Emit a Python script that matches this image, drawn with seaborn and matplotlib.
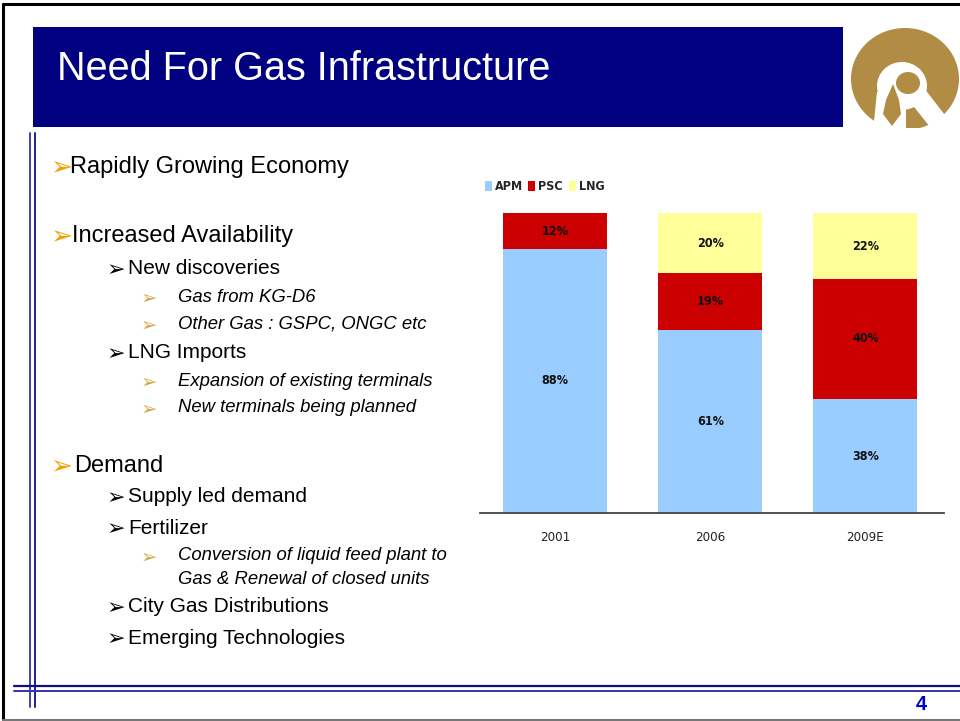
import matplotlib
matplotlib.use('Agg')
import matplotlib.pyplot as plt
import seaborn as sns
from matplotlib.patches import Rectangle, Ellipse, Polygon

# Gas supply mix (%) by source
years = ['2001', '2006', '2009E']
apm = [88, 61, 38]
psc = [12, 19, 40]
lng = [0, 20, 22]
series_names = ['APM', 'PSC', 'LNG']
series_colors = ['#99CCFF', '#CC0000', '#FFFF99']

sns.set_style('white')
plt.rcParams['font.family'] = ['Liberation Sans', 'DejaVu Sans']

fig = plt.figure(figsize=(9.6, 7.21), dpi=100)

# Slide background in pixel coordinates
bg = fig.add_axes([0, 0, 1, 1])
bg.set_xlim(0, 960)
bg.set_ylim(721, 0)
bg.axis('off')

# slide frame
bg.plot([3, 3], [4, 719], color='black', lw=2.2)
bg.plot([3, 960], [4, 4], color='black', lw=2.2)
bg.plot([3, 960], [719.5, 719.5], color='#777777', lw=1.5)

# title bar
bg.add_patch(Rectangle((33, 27), 810, 100, facecolor='#000080', edgecolor='none'))
bg.text(57, 69, 'Need For Gas Infrastructure', color='white', fontsize=28.5,
        va='center', ha='left')

# logo (rough)
gold = '#B08C44'
bg.add_patch(Ellipse((905, 79), 108, 102, facecolor=gold, edgecolor='none'))
bg.add_patch(Ellipse((902, 86), 50, 48, facecolor='white', edgecolor='none'))
bg.add_patch(Polygon([(873, 131), (877, 92), (906, 92), (906, 131)],
                     facecolor='white', edgecolor='none'))
bg.add_patch(Polygon([(907, 98), (924, 88), (948, 119), (930, 127)],
                     facecolor='white', edgecolor='none'))
bg.add_patch(Ellipse((908, 83), 24, 22, facecolor=gold, edgecolor='none'))
bg.add_patch(Polygon([(893, 84), (899, 100), (901, 114), (892, 126), (883, 114),
                      (886, 100)], facecolor=gold, edgecolor='none'))
bg.add_patch(Rectangle((843, 128), 117, 10, facecolor='white', edgecolor='none'))

# left and bottom rules
bg.plot([30, 30], [133, 707], color='#4040A8', lw=1.4)
bg.plot([35, 35], [133, 707], color='#202090', lw=1.4)
bg.plot([14, 960], [686, 686], color='#101080', lw=1.6)
bg.plot([14, 960], [691, 691], color='#3333AA', lw=1.4)
bg.text(921, 704, '4', color='#0000CC', fontsize=14.5, fontweight='bold',
        ha='center', va='center')

# bullet text
arrow = '\u27a2'
lvl1 = [('Rapidly Growing Economy', 167, 70),
        ('Increased Availability', 236, 72),
        ('Demand', 466, 74)]
for txt, y, x in lvl1:
    bg.text(50, y + 1, arrow, color='#F5A000', fontsize=19, family='DejaVu Sans',
            ha='left', va='center')
    bg.text(x, y, txt, fontsize=17, ha='left', va='center', color='black')

lvl2 = [('New discoveries', 269), ('LNG Imports', 353), ('Supply led demand', 497),
        ('Fertilizer', 528), ('City Gas Distributions', 607),
        ('Emerging Technologies', 638)]
for txt, y in lvl2:
    bg.text(107, y + 1, arrow, color='black', fontsize=16, family='DejaVu Sans',
            ha='left', va='center')
    bg.text(128, y, txt, fontsize=15, ha='left', va='center', color='black')

lvl3 = [('Gas from KG-D6', 297), ('Other Gas : GSPC, ONGC etc', 324),
        ('Expansion of existing terminals', 381), ('New terminals being planned', 408),
        ('Conversion of liquid feed plant to', 556)]
for txt, y in lvl3:
    bg.text(141, y + 1, arrow, color='#D8A848', fontsize=14, family='DejaVu Sans',
            ha='left', va='center')
    bg.text(178, y, txt, fontsize=13.3, style='italic', ha='left', va='center',
            color='black')
bg.text(178, 579, 'Gas & Renewal of closed units', fontsize=13.3, style='italic',
        ha='left', va='center', color='black')

# Chart
narrow = dict(family='DejaVu Sans', stretch='condensed')
ax = fig.add_axes([480 / 960, 1 - 513 / 721, 464 / 960, 300 / 721])
ax.set_zorder(2)
ax.patch.set_alpha(0)

tops = [a + p + l for a, p, l in zip(apm, psc, lng)]
mids = [a + p for a, p in zip(apm, psc)]
sns.barplot(x=years, y=tops, color=series_colors[2], width=0.67, linewidth=0,
            saturation=1, ax=ax)
sns.barplot(x=years, y=mids, color=series_colors[1], width=0.67, linewidth=0,
            saturation=1, ax=ax)
sns.barplot(x=years, y=apm, color=series_colors[0], width=0.67, linewidth=0,
            saturation=1, ax=ax)

for i in range(len(years)):
    bottom = 0
    for vals in (apm, psc, lng):
        v = vals[i]
        if v > 0:
            ax.text(i, bottom + v / 2, f'{v}%', ha='center', va='center',
                    fontsize=9, fontweight='bold', color='#111111', **narrow)
        bottom += v

ax.set_xlim(-0.484, 2.506)
ax.set_ylim(0, 100)
ax.set_xlabel('')
ax.set_ylabel('')
ax.set_yticks([])
ax.tick_params(axis='x', length=0, pad=13)
for lab in ax.get_xticklabels():
    lab.set_fontsize(9.5)
    lab.set_family('DejaVu Sans')
    lab.set_stretch('condensed')
    lab.set_color('#222222')
for s in ['top', 'right', 'left']:
    ax.spines[s].set_visible(False)
ax.spines['bottom'].set_color('#444444')
ax.spines['bottom'].set_linewidth(1.3)

handles = [Rectangle((0, 0), 1, 1, facecolor=c, edgecolor='none') for c in series_colors]
ax.legend(handles, series_names, loc='center left', bbox_to_anchor=(0.01, 1.087),
          ncol=3, frameon=False, handlelength=0.55, handleheight=0.9,
          handletextpad=0.25, columnspacing=0.45, borderpad=0, borderaxespad=0,
          prop={'family': 'DejaVu Sans', 'stretch': 'condensed', 'weight': 'bold',
                'size': 9})

fig.savefig('out.png', dpi=100)
